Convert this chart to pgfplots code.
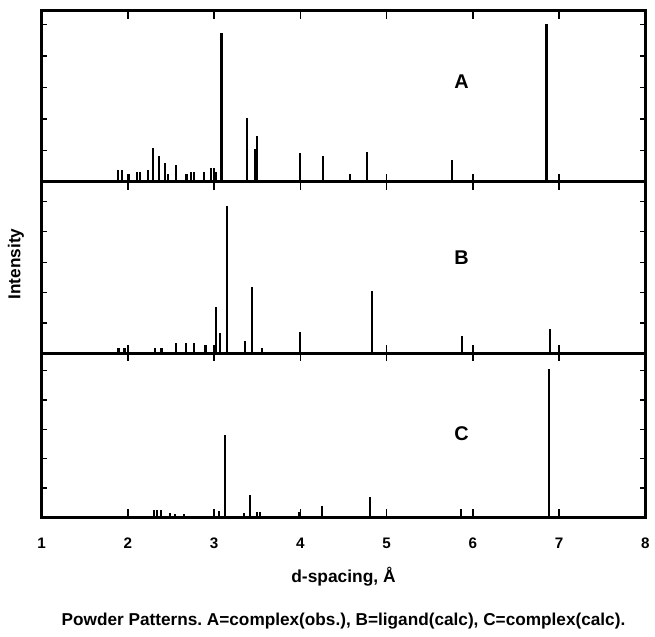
\documentclass[border=0pt]{standalone}
\usepackage{fontspec}
\setmainfont{Liberation Sans}
\usepackage{pgfplots}
\pgfplotsset{compat=1.18}
\usepgfplotslibrary{groupplots}
\frenchspacing

% d-spacing (A) and intensity (in units of the left ticks)
\pgfplotstableread{
d h
1.886 0.36
1.93 0.36
2.01 0.25
2.11 0.32
2.14 0.32
2.235 0.36
2.29 1.08
2.365 0.83
2.435 0.60
2.46 0.25
2.56 0.52
2.68 0.25
2.73 0.30
2.77 0.30
2.88 0.30
2.96 0.43
3.00 0.43
3.02 0.30
3.086 4.74
3.38 2.02
3.47 1.04
3.50 1.47
4.00 0.92
4.26 0.83
4.575 0.25
4.77 0.96
5.76 0.69
6.855 5.03
}\patA
\pgfplotstableread{
d h
1.89 0.19
1.96 0.19
2.31 0.18
2.39 0.18
2.56 0.35
2.67 0.35
2.77 0.33
2.90 0.28
3.02 1.53
3.07 0.66
3.145 4.85
3.36 0.42
3.44 2.17
3.56 0.19
4.00 0.70
4.83 2.06
5.87 0.58
6.895 0.80
}\patB
\pgfplotstableread{
d h
2.005 0.14
2.30 0.25
2.34 0.25
2.38 0.25
2.49 0.14
2.55 0.10
2.65 0.12
3.00 0.14
3.06 0.20
3.125 2.80
3.35 0.14
3.42 0.75
3.50 0.17
3.535 0.17
3.98 0.17
4.25 0.37
4.81 0.69
5.86 0.29
6.88 5.06
}\patC

\tikzset{lbl/.style={font=\bfseries\fontsize{12}{14}\selectfont}}
\pgfplotsset{every axis/.append style={line width=1.8pt}}

\begin{document}
\begin{tikzpicture}
\begin{groupplot}[
  group style={group size=1 by 3, vertical sep=0pt},
  scale only axis, width=364.8pt,
  xmin=1, xmax=8, ymin=0,
  xtick={1,2,3,4,5,6,7,8}, ytick={1,2,3,4,5},
  xticklabels={,,,,,,,}, yticklabels={,,,,},
  tick align=inside, xtick pos=both, ytick pos=both,
  xtick style={black, line width=0.9pt, /pgfplots/major tick length=4.8pt},
  ytick style={black, line width=0.8pt, /pgfplots/major tick length=3.2pt},
  comb/.style={ycomb, black, line width=1.3pt},
]
\nextgroupplot[height=103.2pt, ymax=5.44]
\addplot[comb] table[x=d, y=h]{\patA};
\node[lbl] at (axis cs:5.87,3.2) {A};

\nextgroupplot[height=103.8pt, ymax=5.65]
\addplot[comb] table[x=d, y=h]{\patB};
\node[lbl] at (axis cs:5.87,3.14) {B};

\nextgroupplot[height=99pt, ymax=5.59,
  xticklabels={1,2,3,4,5,6,7,8},
  xticklabel style={font=\bfseries\fontsize{9.2}{11}\selectfont, anchor=center, yshift=-15.6pt}]
\addplot[comb] table[x=d, y=h]{\patC};
\node[lbl] at (axis cs:5.87,2.85) {C};
\end{groupplot}

\node[font=\bfseries\fontsize{10.5}{12}\selectfont] at ([yshift=-36pt]group c1r3.south) {d-spacing, Å};
\node[font=\bfseries\fontsize{10.4}{12}\selectfont] at ([yshift=-63pt]group c1r3.south)
  {Powder Patterns. A=complex(obs.), B=ligand(calc), C=complex(calc).};
\path (group c1r1.north west) -- (group c1r3.south west) coordinate[pos=0.5] (midl);
\node[font=\bfseries\fontsize{10.4}{12}\selectfont, rotate=90] at ([xshift=-15.6pt]midl) {Intensity};
\path ([xshift=-25.2pt,yshift=6.6pt]group c1r1.north west) rectangle ([xshift=3pt,yshift=-72pt]group c1r3.south east);
\end{tikzpicture}
\end{document}
